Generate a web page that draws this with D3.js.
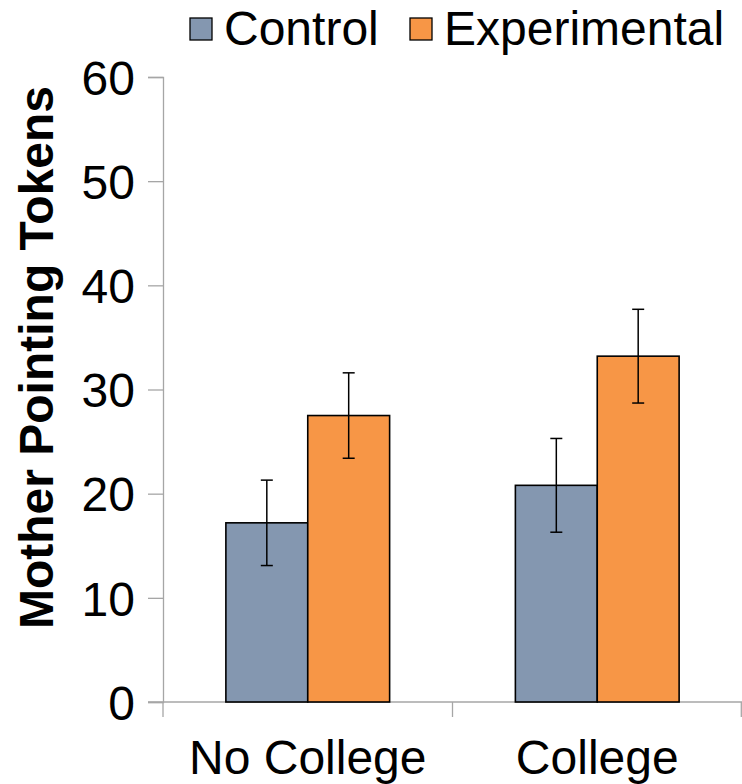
<!DOCTYPE html>
<html>
<head>
<meta charset="utf-8">
<script src="https://cdnjs.cloudflare.com/ajax/libs/d3/7.8.5/d3.min.js"></script>
<style>
  body { margin: 0; background: #fff; }
  text { font-family: Arial, "Liberation Sans", sans-serif; }
</style>
</head>
<body>
<div id="chart"></div>
<script>
// data
var groups = ['No College', 'College'];
var series = ['Control', 'Experimental'];
var colors = ['#8497b0', '#f79646'];
var controlMeans = [17.2, 20.8];
var experimentalMeans = [27.5, 33.2];
var controlErrors = [4.1, 4.5];
var experimentalErrors = [4.1, 4.5];
var yTicks = [0, 10, 20, 30, 40, 50, 60];

var W = 742, H = 784;
var margin = { left: 163, right: 0, top: 77, bottom: 82 };

var svg = d3.select('#chart').append('svg')
    .attr('width', W)
    .attr('height', H);

var y = d3.scaleLinear().domain([0, 60]).range([H - margin.bottom, margin.top]);
var x0 = d3.scaleBand().domain(groups).range([margin.left, W - margin.right])
    .paddingInner(0.4344).paddingOuter(0.2172);
var x1 = d3.scaleBand().domain(series).range([0, x0.bandwidth()]);

var rows = [];
groups.forEach(function(g, i) {
    rows.push({ group: g, s: 0, mean: controlMeans[i], err: controlErrors[i] });
    rows.push({ group: g, s: 1, mean: experimentalMeans[i], err: experimentalErrors[i] });
});

// y axis
var yAxis = svg.append('g')
    .attr('transform', 'translate(' + margin.left + ',0)')
    .call(d3.axisLeft(y).tickValues(yTicks).tickSize(15).tickPadding(13));
yAxis.select('.domain').attr('stroke', '#a6a6a6').attr('stroke-width', 1.3);
yAxis.selectAll('.tick line').attr('stroke', '#a6a6a6').attr('stroke-width', 1.3);
yAxis.selectAll('.tick text').attr('font-size', 48).attr('fill', '#000')
    .attr('font-family', 'Arial, "Liberation Sans", sans-serif').attr('dy', '0.36em');

// x axis
var xAxisG = svg.append('g').attr('transform', 'translate(0,' + y(0) + ')');
xAxisG.append('line')
    .attr('x1', margin.left - 15).attr('x2', W)
    .attr('stroke', '#a6a6a6').attr('stroke-width', 1.3);
var xBounds = [margin.left, (margin.left + W) / 2, W - 0.7];
xAxisG.selectAll('line.sep').data(xBounds).enter().append('line')
    .attr('class', 'sep')
    .attr('x1', function(d) { return d; }).attr('x2', function(d) { return d; })
    .attr('y1', 0).attr('y2', 15)
    .attr('stroke', '#a6a6a6').attr('stroke-width', 1.3);
xAxisG.selectAll('text.cat').data(groups).enter().append('text')
    .attr('class', 'cat')
    .attr('x', function(d) { return x0(d) + x0.bandwidth() / 2; })
    .attr('y', 72)
    .attr('text-anchor', 'middle')
    .attr('font-size', 48)
    .text(function(d) { return d; });

// bars
svg.selectAll('rect.bar').data(rows).enter().append('rect')
    .attr('class', 'bar')
    .attr('x', function(d) { return x0(d.group) + x1(series[d.s]); })
    .attr('y', function(d) { return y(d.mean); })
    .attr('width', x1.bandwidth())
    .attr('height', function(d) { return y(0) - y(d.mean); })
    .attr('fill', function(d) { return colors[d.s]; })
    .attr('stroke', '#000')
    .attr('stroke-width', 1.6);

// error bars
var eb = svg.selectAll('g.err').data(rows).enter().append('g')
    .attr('class', 'err')
    .attr('transform', function(d) {
        return 'translate(' + (x0(d.group) + x1(series[d.s]) + x1.bandwidth() / 2) + ',0)';
    });
eb.append('line')
    .attr('y1', function(d) { return y(d.mean + d.err); })
    .attr('y2', function(d) { return y(d.mean - d.err); })
    .attr('stroke', '#000').attr('stroke-width', 1.5);
eb.selectAll('line.cap').data(function(d) { return [d.mean + d.err, d.mean - d.err]; })
    .enter().append('line')
    .attr('class', 'cap')
    .attr('x1', -6).attr('x2', 6)
    .attr('y1', function(v) { return y(v); })
    .attr('y2', function(v) { return y(v); })
    .attr('stroke', '#000').attr('stroke-width', 1.5);

// y label
svg.append('text')
    .attr('transform', 'translate(53,' + ((y(0) + y(60)) / 2 - 32) + ') rotate(-90)')
    .attr('text-anchor', 'middle')
    .attr('font-size', 48)
    .attr('font-weight', 'bold')
    .text('Mother Pointing Tokens');

// legend
var legendX = [190, 410];
var legend = svg.selectAll('g.legend').data(series).enter().append('g')
    .attr('class', 'legend')
    .attr('transform', function(d, i) { return 'translate(' + legendX[i] + ',18)'; });
legend.append('rect')
    .attr('width', 22).attr('height', 22)
    .attr('fill', function(d, i) { return colors[i]; })
    .attr('stroke', '#000').attr('stroke-width', 1.3);
legend.append('text')
    .attr('x', 34).attr('y', 27)
    .attr('font-size', 48)
    .text(function(d) { return d; });
</script>
</body>
</html>
